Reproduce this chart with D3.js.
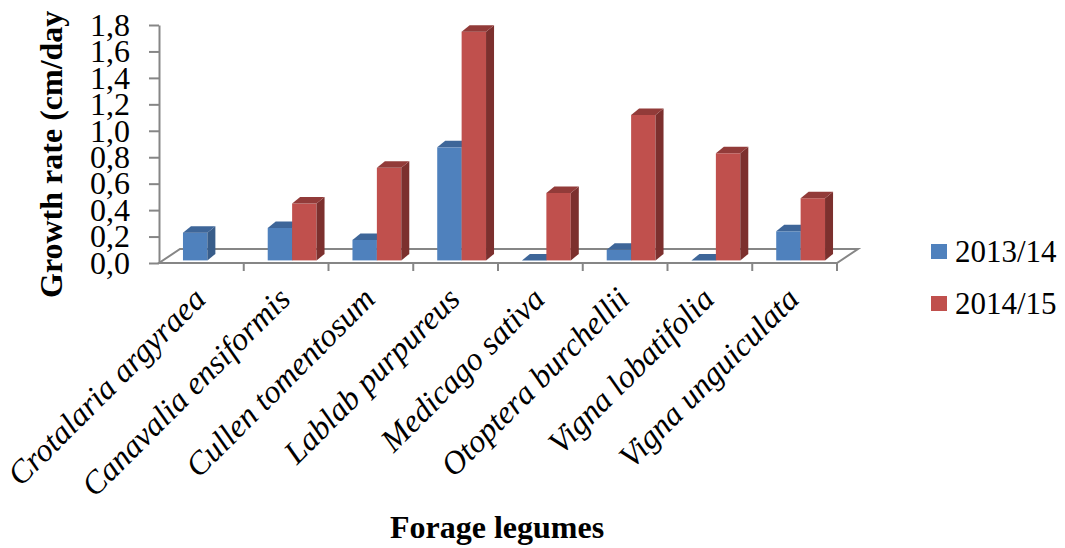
<!DOCTYPE html>
<html>
<head>
<meta charset="utf-8">
<script src="https://cdn.jsdelivr.net/npm/d3@7"></script>
<style>
  body { margin: 0; background: #fff; }
  svg text { font-family: "Liberation Serif", "Times New Roman", serif; fill: #000; }
</style>
</head>
<body>
<svg id="chart" width="1065" height="548"></svg>
<script>
// data
var categories = ["Crotalaria argyraea", "Canavalia ensiformis", "Cullen tomentosum",
    "Lablab purpureus", "Medicago sativa", "Otoptera burchellii", "Vigna lobatifolia", "Vigna unguiculata"];
var seriesNames = ["2013/14", "2014/15"];
var values2013 = [0.21, 0.245, 0.155, 0.855, 0, 0.08, 0, 0.22];
var values2014 = [null, 0.43, 0.70, 1.73, 0.51, 1.10, 0.81, 0.47];
var yTicks = [0, 0.2, 0.4, 0.6, 0.8, 1.0, 1.2, 1.4, 1.6, 1.8];

var svg = d3.select("#chart");

var plot = {left: 159, right: 837, top: 25, bottom: 263};
var floorDx = 21, floorDy = -14;     // depth of the floor
var barOx = 6, barOy = -2.6;         // bars sit a little behind the front edge
var depthDx = 8, depthDy = -6.5;     // depth of each column
var axisColor = "#868686";

var colors = [
    {front: "#4f81bd", top: "#3e6699", side: "#385d8a"},
    {front: "#c0504d", top: "#923b39", side: "#7c302e"}
];

var x = d3.scaleBand().domain(categories).range([plot.left, plot.right]);
var y = d3.scaleLinear().domain([0, 1.8]).range([plot.bottom, plot.top]);

// floor
svg.append("polygon")
    .attr("points", [[plot.left, plot.bottom], [plot.right, plot.bottom],
        [plot.right + floorDx, plot.bottom + floorDy], [plot.left + floorDx, plot.bottom + floorDy]].join(" "))
    .attr("fill", "#fff")
    .attr("stroke", axisColor)
    .attr("stroke-width", 2);

// columns
var barW = x.bandwidth() * 0.288;
var series = [values2013, values2014];

categories.forEach(function(c, ci) {
    series.forEach(function(vals, si) {
        var v = vals[ci];
        if (v === null) return;
        var x0 = x(c) + x.bandwidth() / 2 + barOx - barW + si * barW;
        var yt = y(v) + barOy, yb = y(0) + barOy;
        var col = colors[si];
        var g = svg.append("g");
        g.append("rect")
            .attr("x", x0).attr("y", yt)
            .attr("width", barW).attr("height", yb - yt)
            .attr("fill", col.front);
        g.append("polygon")
            .attr("points", [[x0 + barW, yt], [x0 + barW + depthDx, yt + depthDy],
                [x0 + barW + depthDx, yb + depthDy], [x0 + barW, yb]].join(" "))
            .attr("fill", col.side);
        g.append("polygon")
            .attr("points", [[x0, yt], [x0 + depthDx, yt + depthDy],
                [x0 + barW + depthDx, yt + depthDy], [x0 + barW, yt]].join(" "))
            .attr("fill", col.top);
    });
});

// y axis
var yAxis = svg.append("g")
    .attr("transform", "translate(" + plot.left + ",0)")
    .call(d3.axisLeft(y).tickValues(yTicks).tickSize(10).tickSizeOuter(0).tickPadding(19)
        .tickFormat(function(d) { return d.toFixed(1).replace(".", ","); }));
yAxis.select(".domain").attr("stroke", axisColor).attr("stroke-width", 2);
yAxis.selectAll(".tick line").attr("stroke", axisColor).attr("stroke-width", 2);
yAxis.selectAll(".tick text")
    .style("font-size", "32px")
    .style("font-family", "'Liberation Serif', serif");

// x axis: front edge of the floor, ticks at category boundaries
var xAxis = svg.append("g")
    .attr("transform", "translate(0," + plot.bottom + ")")
    .call(d3.axisBottom(x).tickSize(0).tickSizeOuter(0).tickFormat(""));
xAxis.select(".domain").remove();
xAxis.selectAll(".tick text").remove();

xAxis.selectAll(".boundary")
    .data(categories)
    .enter().append("line")
    .attr("x1", function(d) { return x(d) + x.bandwidth(); })
    .attr("x2", function(d) { return x(d) + x.bandwidth(); })
    .attr("y1", 0).attr("y2", 8)
    .attr("stroke", axisColor)
    .attr("stroke-width", 2);

xAxis.selectAll(".tick")
    .append("text")
    .attr("transform", "translate(6,38) rotate(-45)")
    .attr("text-anchor", "end")
    .style("font-size", "32.5px")
    .style("font-style", "italic")
    .style("font-family", "'Liberation Serif', serif")
    .attr("fill", "#000")
    .text(function(d) { return d; });

// axis titles
svg.append("text")
    .attr("transform", "translate(62,298) rotate(-90)")
    .attr("text-anchor", "start")
    .style("font-size", "32px")
    .style("font-weight", "bold")
    .text("Growth rate (cm/day");

svg.append("text")
    .attr("x", 497).attr("y", 538)
    .attr("text-anchor", "middle")
    .style("font-size", "32px")
    .style("font-weight", "bold")
    .text("Forage legumes");

// legend
var legend = svg.append("g").attr("transform", "translate(931,244)");
seriesNames.forEach(function(name, i) {
    var row = legend.append("g").attr("transform", "translate(0," + (i * 52) + ")");
    row.append("rect")
        .attr("width", 16).attr("height", 15)
        .attr("fill", colors[i].front);
    row.append("text")
        .attr("x", 24).attr("y", 18)
        .style("font-size", "31px")
        .text(name);
});
</script>
</body>
</html>
